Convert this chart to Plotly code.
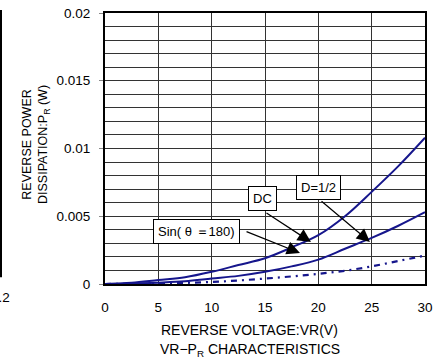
import plotly.graph_objects as go

vr = [0, 2.5, 5, 7.5, 10, 12.5, 15, 17.5, 20, 22.5, 25, 27.5, 30]
p_dc = [0, 0.0001, 0.0003, 0.0005, 0.0009, 0.0014, 0.0019, 0.0027, 0.0036, 0.0050, 0.0068, 0.0087, 0.0108]
p_half = [0, 0.00003, 0.0001, 0.0002, 0.0004, 0.0006, 0.0009, 0.0013, 0.0018, 0.0026, 0.0034, 0.0043, 0.0053]
p_sin = [0, 0.00001, 0.00003, 0.00008, 0.00015, 0.00026, 0.0004, 0.00056, 0.00075, 0.00098, 0.0013, 0.0017, 0.0021]

x_ticks = [0, 5, 10, 15, 20, 25, 30]
y_ticks = [0, 0.005, 0.01, 0.015, 0.02]
y_tick_text = ["0", "0.005", "0.01", "0.015", "0.02"]

# label boxes: (text, x, y) and arrows: (tail_x, tail_y, head_x, head_y)
labels = [("DC", 14.81, 0.00631), ("D=1/2", 20.02, 0.00712), ("Sin( θ ＝180)", 8.58, 0.00387)]
arrows = [(15.0, 0.00531, 19.31, 0.0031), (20.16, 0.0062, 24.84, 0.0031), (13.13, 0.00391, 18.28, 0.00229)]

NAVY = "#16168c"
GRID = "#333333"
FONT = "Arial, Liberation Sans, sans-serif"

fig = go.Figure()
fig.add_trace(go.Scatter(x=vr, y=p_dc, mode="lines", line=dict(color=NAVY, width=2, shape="spline"), showlegend=False))
fig.add_trace(go.Scatter(x=vr, y=p_half, mode="lines", line=dict(color=NAVY, width=2, shape="spline"), showlegend=False))
fig.add_trace(go.Scatter(x=vr, y=p_sin, mode="lines", line=dict(color=NAVY, width=2.2, shape="spline", dash="6px,5px,2px,5px"), showlegend=False))

for (t, x, y) in labels:
    fig.add_annotation(x=x, y=y, xref="x", yref="y", text=t, showarrow=False,
                       font=dict(family=FONT, size=13, color="black"),
                       bgcolor="white", bordercolor="black", borderwidth=1, borderpad=4)
for (tx, ty, hx, hy) in arrows:
    fig.add_annotation(x=hx, y=hy, ax=tx, ay=ty, xref="x", yref="y", axref="x", ayref="y",
                       text="", showarrow=True, arrowhead=2, arrowsize=2.2, arrowwidth=1.2,
                       arrowcolor="black", standoff=0)

# axis titles
fig.add_annotation(x=0.453, y=-0.171, xref="paper", yref="paper", xanchor="center", yanchor="middle",
                   text="REVERSE VOLTAGE:VR(V)", showarrow=False,
                   font=dict(family=FONT, size=14, color="black"))
fig.add_annotation(x=0.453, y=-0.245, xref="paper", yref="paper", xanchor="center", yanchor="middle",
                   text="VR−P<sub>R</sub> CHARACTERISTICS", showarrow=False,
                   font=dict(family=FONT, size=14, color="black"))
fig.add_annotation(x=-0.2156, y=0.513, xref="paper", yref="paper", xanchor="center", yanchor="middle",
                   text="REVERSE POWER<br>DISSIPATION:P<sub>R</sub> (W)", showarrow=False, textangle=-90,
                   font=dict(family=FONT, size=12.5, color="black"), align="center")

# neighbouring chart remnant at the left edge
fig.add_shape(type="line", xref="paper", yref="paper", x0=-0.325, x1=-0.325, y0=1.011, y1=0.025,
              line=dict(color="black", width=2))
fig.add_annotation(x=-0.29, y=-0.05, xref="paper", yref="paper", xanchor="right", yanchor="middle",
                   text="0.2", showarrow=False, font=dict(family=FONT, size=13.5, color="black"))

fig.update_xaxes(range=[0, 30], tickmode="array", tickvals=x_ticks, showgrid=True, gridcolor=GRID, gridwidth=1,
                 showline=True, linecolor="black", linewidth=2, mirror=True, ticks="",
                 ticklabelstandoff=10, zeroline=False, minor=dict(showgrid=False),
                 tickfont=dict(family=FONT, size=13.5, color="black"))
fig.update_yaxes(range=[0, 0.02], tickmode="array", tickvals=y_ticks, ticktext=y_tick_text,
                 showgrid=True, gridcolor=GRID, gridwidth=1,
                 showline=True, linecolor="black", linewidth=2, mirror=True, ticks="outside",
                 ticklen=4, tickcolor="#888", zeroline=False, ticklabelstandoff=6,
                 tickfont=dict(family=FONT, size=13.5, color="black"),
                 minor=dict(tickmode="linear", tick0=0, dtick=0.001, showgrid=True, gridcolor=GRID, gridwidth=1, ticks=""))

fig.update_layout(width=433, height=361, margin=dict(l=105, r=8, t=13, b=77, autoexpand=False),
                  plot_bgcolor="white", paper_bgcolor="white", font=dict(family=FONT))
fig.write_html("out.html", config={"displayModeBar": False},
               post_script="document.body.style.margin='0';document.body.style.padding='0';")
